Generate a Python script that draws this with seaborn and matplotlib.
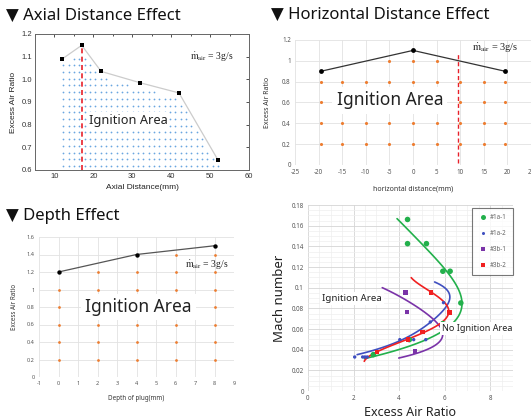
import numpy as np
import pandas as pd
import matplotlib
matplotlib.use("Agg")
import matplotlib.pyplot as plt
import seaborn as sns
from matplotlib.ticker import MultipleLocator, FuncFormatter

# ---------------- data ----------------
# Axial distance effect
axial_x = [12, 17, 22, 32, 42, 52]
axial_y = [1.09, 1.15, 1.035, 0.985, 0.94, 0.645]
axial_dash_x = 17

# Horizontal distance effect
horiz_x = [-19.5, 0, 19.5]
horiz_y = [0.9, 1.1, 0.9]
horiz_dot_x = [-19.5, -15, -10, -5, 0, 5, 10, 15, 19.5] * 4 + [-5, 0, 5]
horiz_dot_y = ([0.2] * 9 + [0.4] * 9 + [0.6] * 9 + [0.8] * 9 + [1.0] * 3)
horiz_dash_x = 9.5
horiz_dash_y = (0.02, 1.08)

# Depth effect
depth_x = [0, 4, 8]
depth_y = [1.2, 1.4, 1.5]
depth_dot_x = [0, 2, 4, 6, 8] * 5 + [2, 4, 6, 8] + [6, 8]
depth_dot_y = ([0.2] * 5 + [0.4] * 5 + [0.6] * 5 + [0.8] * 5 + [1.0] * 5
               + [1.2] * 4 + [1.4] * 2)

# Mach number vs excess air ratio
s1a1_x = [4.37, 4.37, 5.20, 5.92, 6.24, 6.71, 5.92, 4.45, 2.87]
s1a1_y = [0.166, 0.1426, 0.1426, 0.1159, 0.1159, 0.0852, 0.0652, 0.0497, 0.0352]
s1a2_x = [5.95, 5.37, 4.03, 4.64, 5.17, 2.05, 2.40, 2.50, 2.60]
s1a2_y = [0.0855, 0.0668, 0.0497, 0.0497, 0.0497, 0.0329, 0.0329, 0.0329, 0.0329]
s3b1_x = [4.28, 4.35, 5.90, 4.69]
s3b1_y = [0.0952, 0.0765, 0.0571, 0.0384]
s3b2_x = [5.41, 6.21, 5.02, 4.40, 3.04]
s3b2_y = [0.0952, 0.0758, 0.0571, 0.0497, 0.0378]

# trend curves
c1a1_x = [3.91, 4.98, 6.10, 6.74, 6.33, 5.27, 4.03, 2.50]
c1a1_y = [0.1668, 0.1426, 0.1159, 0.0855, 0.0652, 0.0497, 0.041, 0.0313]
c1a2_x = [5.56, 6.10, 5.41, 4.10, 3.16, 2.14]
c1a2_y = [0.1055, 0.083, 0.0668, 0.0497, 0.041, 0.0352]
c3b1_x = [3.26, 4.90, 5.63, 5.88, 5.63, 4.90, 4.00]
c3b1_y = [0.100, 0.0797, 0.0668, 0.0571, 0.0442, 0.0378, 0.0319]
c3b2_x = [4.54, 5.41, 6.24, 5.05, 3.74, 2.46]
c3b2_y = [0.1097, 0.0952, 0.0765, 0.0571, 0.0442, 0.0287]

series_names = ["#1a-1", "#1a-2", "#3b-1", "#3b-2"]
series_colors = ["#22b04b", "#3f4fc0", "#7a33a8", "#f02020"]

# ---------------- style ----------------
sns.set_theme(style="white")
plt.rcParams["font.family"] = ["Noto Sans", "DejaVu Sans"]
plt.rcParams["mathtext.fontset"] = "stix"

W, H = 531, 420
fig = plt.figure(figsize=(W / 100, H / 100), dpi=100)
fig.patch.set_facecolor("white")


def box(l, t, r, b):
    return [l / W, 1 - b / H, (r - l) / W, (b - t) / H]


TITLE = dict(fontsize=12, va="center", ha="left", family=["Noto Sans", "DejaVu Sans"], color="#111")
fig.text(6 / W, 1 - 16 / H, "▼ Axial Distance Effect", **TITLE)
fig.text(271 / W, 1 - 15 / H, "▼ Horizontal Distance Effect", **TITLE)
fig.text(6 / W, 1 - 216 / H, "▼ Depth Effect", **TITLE)

MDOT = r"$\dot{\mathrm{m}}_{\mathrm{air}}$ = 3g/s"
SERIF = ["Liberation Serif", "DejaVu Serif"]
gfmt = FuncFormatter(lambda v, p: f"{v:g}")

# ---------------- panel 1: axial ----------------
ax1 = fig.add_axes(box(35, 34, 249, 170))
gx = np.arange(12.3, 52.6, 1.37)
gy = np.arange(0.618, 1.2, 0.0296)
GX, GY = np.meshgrid(gx, gy)
bound = np.interp(GX, axial_x, axial_y)
mask = GY < bound - 0.025
sns.scatterplot(x=GX[mask], y=GY[mask], ax=ax1, s=1.6, color="#6aa6e0",
                linewidth=0, legend=False, zorder=1)
ax1.vlines(axial_dash_x, 0.6, axial_y[axial_x.index(axial_dash_x)],
           colors="#e8202a", linestyles=(0, (3, 2)), lw=1.2, zorder=2)
sns.lineplot(x=axial_x, y=axial_y, ax=ax1, color="#cccccc", lw=0.9, zorder=3)
sns.scatterplot(x=axial_x, y=axial_y, ax=ax1, marker="s", s=9, color="black",
                linewidth=0, zorder=4, legend=False)
ax1.set_xlim(5, 60)
ax1.set_ylim(0.6, 1.2)
ax1.xaxis.set_major_locator(MultipleLocator(10))
ax1.xaxis.set_minor_locator(MultipleLocator(5))
ax1.yaxis.set_major_locator(MultipleLocator(0.1))
ax1.yaxis.set_major_formatter(FuncFormatter(lambda v, p: f"{v:.1f}"))
ax1.tick_params(which="both", direction="in", top=True, right=True, width=0.6,
                labelsize=5.5, pad=2, colors="#333")
ax1.tick_params(which="major", length=2.5)
ax1.tick_params(which="minor", length=1.5)
for lab in ax1.get_xticklabels() + ax1.get_yticklabels():
    lab.set_family(["Liberation Sans", "DejaVu Sans"])
for s in ax1.spines.values():
    s.set_color("#666")
    s.set_linewidth(0.7)
ax1.set_xlabel("Axial Distance(mm)", fontsize=6, family=["Liberation Sans"], labelpad=3, color="#222")
ax1.set_ylabel("Excess Air Ratio", fontsize=6, family=["Liberation Sans"], labelpad=3, color="#222")
ax1.text(28.9, 0.82, "Ignition Area", fontsize=9.2, ha="center", va="center", color="#222",
         bbox=dict(facecolor="white", edgecolor="none", pad=1.5), zorder=5)
ax1.text(44.8, 1.098, MDOT, fontsize=7, ha="left", va="center", family=SERIF, color="#222")


def excel_axes(ax):
    for s in ax.spines.values():
        s.set_visible(False)
    ax.grid(True, color="#e2e2e2", lw=0.6)
    ax.set_axisbelow(True)
    ax.tick_params(length=0, labelsize=4.5, pad=3, colors="#555")
    ax.xaxis.set_major_formatter(gfmt)
    ax.yaxis.set_major_formatter(gfmt)


# ---------------- panel 2: horizontal ----------------
ax2 = fig.add_axes(box(295, 40, 531, 165))
excel_axes(ax2)
ax2.set_xlim(-25, 25)
ax2.set_ylim(0, 1.2)
ax2.xaxis.set_major_locator(MultipleLocator(5))
ax2.yaxis.set_major_locator(MultipleLocator(0.2))
sns.scatterplot(x=horiz_dot_x, y=horiz_dot_y, ax=ax2, s=5, color="#ed7d31",
                linewidth=0, legend=False, zorder=2)
ax2.vlines(horiz_dash_x, *horiz_dash_y, colors="#e8202a", linestyles=(0, (3, 2)), lw=1.0, zorder=3)
sns.lineplot(x=horiz_x, y=horiz_y, ax=ax2, color="#333", lw=0.9, zorder=4)
sns.scatterplot(x=horiz_x, y=horiz_y, ax=ax2, s=12, color="black", linewidth=0,
                legend=False, zorder=5)
ax2.set_xlabel("horizontal distance(mm)", fontsize=5, fontweight="bold", labelpad=7, color="#333")
ax2.set_ylabel("Excess Air Ratio", fontsize=5, fontweight="bold", labelpad=8, color="#333")
ax2.text(-4.9, 0.62, "Ignition Area", fontsize=12.5, ha="center", va="center", color="#222",
         bbox=dict(facecolor="white", edgecolor="none", pad=3), zorder=6)
ax2.text(12.6, 1.12, MDOT, fontsize=7.5, ha="left", va="center", family=SERIF, color="#222")

# ---------------- panel 3: depth ----------------
ax3 = fig.add_axes(box(39, 237, 234, 377))
excel_axes(ax3)
ax3.set_xlim(-1, 9)
ax3.set_ylim(0, 1.6)
ax3.xaxis.set_major_locator(MultipleLocator(1))
ax3.yaxis.set_major_locator(MultipleLocator(0.2))
ax3.tick_params(labelsize=4)
sns.scatterplot(x=depth_dot_x, y=depth_dot_y, ax=ax3, s=4, color="#ed7d31",
                linewidth=0, legend=False, zorder=2)
sns.lineplot(x=depth_x, y=depth_y, ax=ax3, color="#555", lw=0.9, zorder=4)
sns.scatterplot(x=depth_x, y=depth_y, ax=ax3, s=10, color="black", linewidth=0,
                legend=False, zorder=5)
ax3.set_xlabel("Depth of plug(mm)", fontsize=4.5, fontweight="bold", labelpad=6, color="#333")
ax3.set_ylabel("Excess Air Ratio", fontsize=4.5, fontweight="bold", labelpad=6, color="#333")
ax3.text(4.1, 0.8, "Ignition Area", fontsize=12.5, ha="center", va="center", color="#222",
         bbox=dict(facecolor="white", edgecolor="none", pad=3), zorder=6)
ax3.text(6.5, 1.28, MDOT, fontsize=7, ha="left", va="center", family=SERIF, color="#222")

# ---------------- panel 4: mach ----------------
ax4 = fig.add_axes(box(308, 205, 513, 391))
for s in ax4.spines.values():
    s.set_visible(False)
ax4.set_xlim(0, 9)
ax4.set_ylim(0, 0.18)
ax4.xaxis.set_major_locator(MultipleLocator(2))
ax4.xaxis.set_minor_locator(MultipleLocator(0.5))
ax4.yaxis.set_major_locator(MultipleLocator(0.02))
ax4.yaxis.set_minor_locator(MultipleLocator(0.005))
ax4.grid(True, which="major", color="#d4d4d4", lw=0.6)
ax4.grid(True, which="minor", color="#eeeeee", lw=0.5)
ax4.set_axisbelow(True)
ax4.tick_params(which="both", length=0, labelsize=4.5, pad=3, colors="#555")
ax4.xaxis.set_major_formatter(gfmt)
ax4.yaxis.set_major_formatter(gfmt)

rows = []
for name, xs, ys in zip(series_names, [s1a1_x, s1a2_x, s3b1_x, s3b2_x],
                        [s1a1_y, s1a2_y, s3b1_y, s3b2_y]):
    for a, b in zip(xs, ys):
        rows.append((name, a, b))
pts = pd.DataFrame(rows, columns=["series", "ear", "mach"])

curves = [(c1a1_x, c1a1_y), (c1a2_x, c1a2_y), (c3b1_x, c3b1_y), (c3b2_x, c3b2_y)]
for (cx, cy), col in zip(curves, series_colors):
    coef = np.polyfit(cy, cx, 4)
    yy = np.linspace(min(cy), max(cy), 120)
    ax4.plot(np.polyval(coef, yy), yy, color=col, lw=1.2, zorder=3)

markers = {"#1a-1": "o", "#1a-2": "o", "#3b-1": "s", "#3b-2": "s"}
sizes = {"#1a-1": 16, "#1a-2": 6, "#3b-1": 10, "#3b-2": 10}
sns.scatterplot(data=pts, x="ear", y="mach", hue="series", style="series", size="series",
                hue_order=series_names, palette=series_colors, markers=markers,
                sizes=sizes, linewidth=0, ax=ax4, zorder=4)
leg = ax4.legend(loc="upper right", bbox_to_anchor=(1.0, 0.985), fontsize=4.5,
                 frameon=True, fancybox=False, edgecolor="#555", labelspacing=1.45,
                 handletextpad=0.3, borderpad=1.0, handlelength=1.6, markerscale=0.9,
                 borderaxespad=0)
leg.get_frame().set_linewidth(0.8)
for t in leg.get_texts():
    t.set_color("#666")
ax4.set_xlabel("Excess Air Ratio", fontsize=9, labelpad=3, color="#222")
ax4.set_ylabel("Mach number", fontsize=9.5, labelpad=4, color="#222")
ax4.text(1.93, 0.0895, "Ignition Area", fontsize=7, ha="center", va="center", color="#222",
         bbox=dict(facecolor="white", edgecolor="none", pad=1.5), zorder=6)
ax4.text(7.43, 0.0605, "No Ignition Area", fontsize=6.5, ha="center", va="center", color="#222",
         bbox=dict(facecolor="white", edgecolor="none", pad=1.5), zorder=6)

fig.savefig("out.png", dpi=100, facecolor="white")
